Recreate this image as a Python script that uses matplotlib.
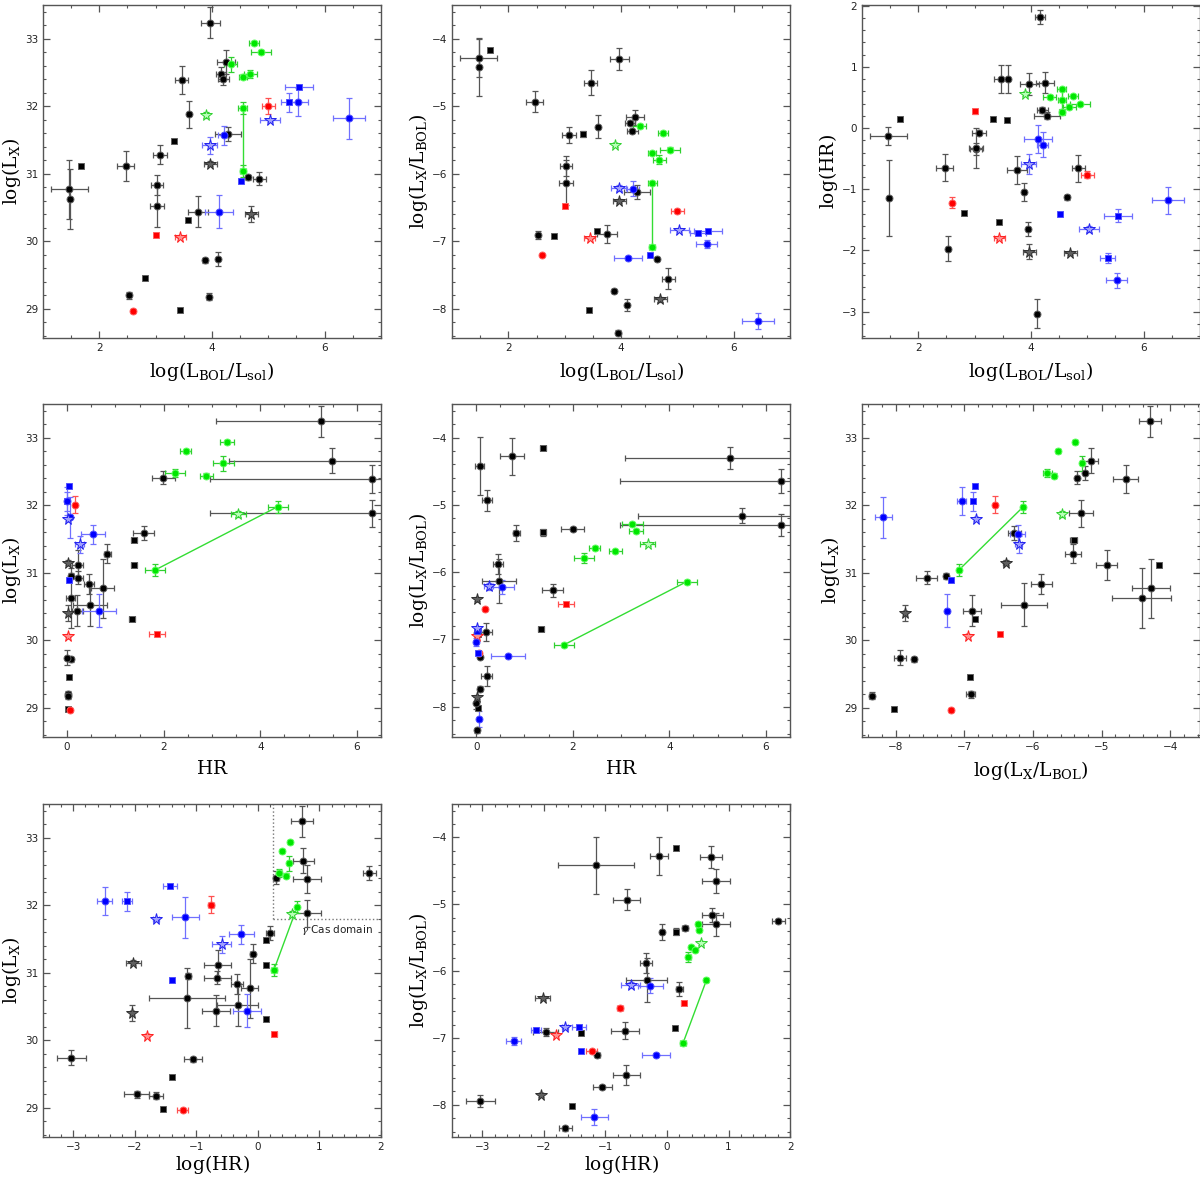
import numpy as np
import matplotlib
matplotlib.use('Agg')
from matplotlib import pyplot as plt
from matplotlib.ticker import MultipleLocator

plt.rcParams['mathtext.fontset'] = 'dejavuserif'

# one entry per source: 25 black, 2 grey stars, 4 red, 8 green, 9 blue
kind = ['k', 'k', 'k_sq', 'k', 'k', 'k_sq', 'k', 'k', 'k', 'k_sq',
        'k', 'k', 'k_sq', 'k_sq', 'k', 'k', 'k', 'k', 'k', 'k',
        'k', 'k', 'k', 'k', 'k',
        'grey_star', 'grey_star',
        'red', 'red_sq', 'red', 'red_star',
        'green', 'green', 'green', 'green', 'green', 'green', 'green', 'green_star',
        'blue_sq', 'blue_sq', 'blue', 'blue', 'blue_star', 'blue_star', 'blue', 'blue_sq', 'blue']

lbol = [1.47, 1.48, 1.67, 2.47, 2.53, 2.81, 3.02, 3.02, 3.08, 3.32,
        3.46, 3.59, 3.57, 3.43, 3.75, 3.87, 4.10, 3.95, 3.97, 4.25,
        4.16, 4.20, 4.28, 4.64, 4.84,
        3.97, 4.70,
        5.00, 3.01, 2.59, 3.44,
        4.74, 4.87, 4.33, 4.55, 4.68, 4.55, 4.55, 3.89,
        5.54, 5.36, 5.52, 6.43, 5.03, 3.96, 4.21, 4.51, 4.12]
lbol_err = [0.33, 0.0, 0.0, 0.15, 0.03, 0.0, 0.11, 0.12, 0.12, 0.03,
            0.12, 0.0, 0.03, 0.0, 0.18, 0.03, 0.0, 0.03, 0.17, 0.16,
            0.09, 0.10, 0.23, 0.03, 0.12,
            0.12, 0.12,
            0.12, 0.0, 0.0, 0.10,
            0.09, 0.17, 0.11, 0.07, 0.12, 0.08, 0.05, 0.04,
            0.25, 0.14, 0.19, 0.28, 0.17, 0.13, 0.10, 0.0, 0.25]

lx = [30.77, 30.63, 31.11, 31.12, 29.20, 29.46, 30.83, 30.53, 31.28, 31.49,
      32.39, 31.88, 30.32, 28.98, 30.44, 29.72, 29.74, 29.18, 33.24, 32.66,
      32.48, 32.41, 31.59, 30.95, 30.93,
      31.15, 30.41,
      32.01, 30.10, 28.97, 30.07,
      32.93, 32.80, 32.62, 32.44, 32.48, 31.98, 31.04, 31.87,
      32.28, 32.06, 32.06, 31.82, 31.79, 31.42, 31.57, 30.89, 30.44]
lx_err = [0.44, 0.44, 0.02, 0.22, 0.05, 0.02, 0.15, 0.32, 0.14, 0.03,
          0.21, 0.20, 0.02, 0.0, 0.23, 0.04, 0.11, 0.05, 0.23, 0.18,
          0.10, 0.10, 0.10, 0.04, 0.09,
          0.04, 0.12,
          0.12, 0.02, 0.03, 0.02,
          0.03, 0.03, 0.11, 0.04, 0.06, 0.09, 0.09, 0.04,
          0.03, 0.14, 0.21, 0.30, 0.02, 0.13, 0.14, 0.02, 0.24]

lhr = [-0.13, -1.15, 0.14, -0.65, -1.97, -1.39, -0.34, -0.33, -0.08, 0.14,
       0.80, 0.80, 0.13, -1.54, -0.68, -1.05, -3.03, -1.65, 0.72, 0.74,
       1.81, 0.30, 0.20, -1.13, -0.66,
       -2.02, -2.04,
       -0.76, 0.27, -1.22, -1.80,
       0.52, 0.39, 0.51, 0.46, 0.35, 0.64, 0.26, 0.55,
       -1.43, -2.12, -2.49, -1.18, -1.65, -0.59, -0.27, -1.40, -0.18]
lhr_err = [0.14, 0.62, 0.02, 0.22, 0.20, 0.03, 0.10, 0.33, 0.04, 0.02,
           0.23, 0.23, 0.02, 0.02, 0.23, 0.15, 0.24, 0.11, 0.18, 0.17,
           0.11, 0.05, 0.06, 0.04, 0.22,
           0.12, 0.03,
           0.05, 0.04, 0.09, 0.03,
           0.02, 0.02, 0.03, 0.02, 0.04, 0.02, 0.05, 0.02,
           0.11, 0.08, 0.12, 0.22, 0.05, 0.16, 0.20, 0.03, 0.23]

lxlb = [-4.28, -4.42, -4.16, -4.93, -6.91, -6.92, -5.88, -6.13, -5.42, -5.41,
        -4.65, -5.30, -6.85, -8.02, -6.89, -7.73, -7.94, -8.35, -4.30, -5.16,
        -5.25, -5.36, -6.27, -7.26, -7.55,
        -6.40, -7.86,
        -6.55, -6.48, -7.20, -6.95,
        -5.39, -5.64, -5.29, -5.69, -5.79, -6.14, -7.08, -5.58,
        -6.84, -6.88, -7.04, -8.18, -6.83, -6.21, -6.22, -7.20, -7.25]
lxlb_err = [0.28, 0.43, 0.02, 0.155, 0.06, 0.02, 0.15, 0.33, 0.12, 0.05,
            0.18, 0.17, 0.03, 0.0, 0.13, 0.03, 0.09, 0.04, 0.165, 0.11,
            0.03, 0.03, 0.10, 0.02, 0.15,
            0.03, 0.03,
            0.03, 0.02, 0.02, 0.02,
            0.03, 0.03, 0.03, 0.02, 0.07, 0.03, 0.03, 0.03,
            0.03, 0.03, 0.06, 0.12, 0.03, 0.05, 0.11, 0.02, 0.03]

# the two green points joined by a line (same source, two epochs)
linked = (36, 37)

lbol = np.array(lbol); lbol_err = np.array(lbol_err)
lx = np.array(lx); lx_err = np.array(lx_err)
lhr = np.array(lhr); lhr_err = np.array(lhr_err)
lxlb = np.array(lxlb); lxlb_err = np.array(lxlb_err)
hr = 10 ** lhr
hr_err = hr * np.log(10) * lhr_err

STYLE = {
    'k': dict(m='o', ms=5, fc='black', ec='#606060', err='#555555'),
    'k_sq': dict(m='s', ms=4.3, fc='black', ec='#606060', err='#555555'),
    'grey_star': dict(m='*', ms=8.5, fc='#606060', ec='#303030', err='#555555'),
    'red': dict(m='o', ms=5, fc='#ff0000', ec='#ff6060', err='#ff5050'),
    'red_sq': dict(m='s', ms=4.3, fc='#ff0000', ec='#ff6060', err='#ff5050'),
    'red_star': dict(m='*', ms=8.5, fc='#ff9090', ec='#ff2020', err='#ff5050'),
    'green': dict(m='o', ms=5, fc='#00e600', ec='#60ff60', err='#30d030'),
    'green_star': dict(m='*', ms=8.5, fc='#b8ffb8', ec='#30d030', err='#30d030'),
    'blue': dict(m='o', ms=5, fc='#0000ff', ec='#5050ff', err='#7070ff'),
    'blue_sq': dict(m='s', ms=4.3, fc='#0000ff', ec='#5050ff', err='#7070ff'),
    'blue_star': dict(m='*', ms=8.5, fc='#a0a0ff', ec='#2020ee', err='#7070ff'),
}

LBOL = r'$\mathrm{log(L_{BOL}/L_{sol})}$'
LX = r'$\mathrm{log(L_X)}$'
RATIO = r'$\mathrm{log(L_X/L_{BOL})}$'
LHR = r'$\mathrm{log(HR)}$'
HR = r'$\mathrm{HR}$'


def panel(ax, x, xe, y, ye):
    for i in range(len(kind)):
        st = STYLE[kind[i]]
        ax.errorbar(x[i], y[i],
                    xerr=xe[i] if xe[i] > 0 else None,
                    yerr=ye[i] if ye[i] > 0 else None,
                    fmt='none', ecolor=st['err'], elinewidth=0.9,
                    capsize=2.2, capthick=0.9, zorder=2)
        ax.plot(x[i], y[i], marker=st['m'], ms=st['ms'], mfc=st['fc'],
                mec=st['ec'], mew=0.7, linestyle='None', zorder=3)
    a, b = linked
    ax.plot([x[a], x[b]], [y[a], y[b]], color='#33dd33', lw=1.0, zorder=2)


def style_axes(ax, xlim, ylim, xmaj, xmin, ymaj, ymin, xlabel, ylabel, xpad=5):
    ax.set_xlim(*xlim)
    ax.set_ylim(*ylim)
    ax.xaxis.set_major_locator(MultipleLocator(xmaj))
    ax.xaxis.set_minor_locator(MultipleLocator(xmin))
    ax.yaxis.set_major_locator(MultipleLocator(ymaj))
    ax.yaxis.set_minor_locator(MultipleLocator(ymin))
    ax.tick_params(which='both', direction='in', top=True, right=True,
                   color='#555555', labelsize=7.5, labelcolor='#222222')
    ax.tick_params(which='major', length=5, width=0.9)
    ax.tick_params(which='minor', length=2.5, width=0.8)
    for sp in ax.spines.values():
        sp.set_color('#555555')
        sp.set_linewidth(1.0)
    ax.set_xlabel(xlabel, fontsize=13.5, labelpad=xpad)
    ax.set_ylabel(ylabel, fontsize=13.5, labelpad=1)


fig = plt.figure(figsize=(12, 11.81), dpi=100)
W, H = 0.2817, 0.282
lefts = [0.0358, 0.3767, 0.7183]
bottoms = [0.7138, 0.3760, 0.0373]

LX_LIM = (28.57, 33.5)
LBOL_LIM = (1.0, 7.0)
RATIO_LIM = (-8.45, -3.5)
HR_LIM = (-0.5, 6.5)
LHR_LIM = (-3.49, 2.0)

# row 1
ax = fig.add_axes([lefts[0], bottoms[0], W, H])
panel(ax, lbol, lbol_err, lx, lx_err)
style_axes(ax, LBOL_LIM, LX_LIM, 2, 0.5, 1, 0.2, LBOL, LX)

ax = fig.add_axes([lefts[1], bottoms[0], W, H])
panel(ax, lbol, lbol_err, lxlb, lxlb_err)
style_axes(ax, LBOL_LIM, (-8.43, -3.5), 2, 0.5, 1, 0.2, LBOL, RATIO)

ax = fig.add_axes([lefts[2], bottoms[0], W, H])
panel(ax, lbol, lbol_err, lhr, lhr_err)
style_axes(ax, LBOL_LIM, (-3.43, 2.01), 2, 0.5, 1, 0.2, LBOL, LHR)

# row 2
ax = fig.add_axes([lefts[0], bottoms[1], W, H])
panel(ax, hr, hr_err, lx, lx_err)
style_axes(ax, HR_LIM, LX_LIM, 2, 0.5, 1, 0.2, HR, LX)

ax = fig.add_axes([lefts[1], bottoms[1], W, H])
panel(ax, hr, hr_err, lxlb, lxlb_err)
style_axes(ax, HR_LIM, RATIO_LIM, 2, 0.5, 1, 0.2, HR, RATIO)

ax = fig.add_axes([lefts[2], bottoms[1], W, H])
panel(ax, lxlb, lxlb_err, lx, lx_err)
style_axes(ax, (-8.49, -3.57), LX_LIM, 1, 0.2, 1, 0.2, RATIO, LX)

# row 3
ax = fig.add_axes([lefts[0], bottoms[2], W, H])
panel(ax, lhr, lhr_err, lx, lx_err)
ax.plot([0.25, 0.25], [31.8, 33.5], ls=':', color='#777777', lw=1.0, zorder=1)
ax.plot([0.25, 2.0], [31.8, 31.8], ls=':', color='#777777', lw=1.0, zorder=1)
ax.text(0.70, 31.64, r'$\gamma$ Cas domain', fontsize=7.5, va='center', ha='left',
        color='#222222')
style_axes(ax, LHR_LIM, LX_LIM, 1, 0.2, 1, 0.2, LHR, LX, xpad=1)

ax = fig.add_axes([lefts[1], bottoms[2], W, H])
panel(ax, lhr, lhr_err, lxlb, lxlb_err)
style_axes(ax, LHR_LIM, (-8.48, -3.5), 1, 0.2, 1, 0.2, LHR, RATIO, xpad=1)

fig.savefig('out.png', dpi=100)
